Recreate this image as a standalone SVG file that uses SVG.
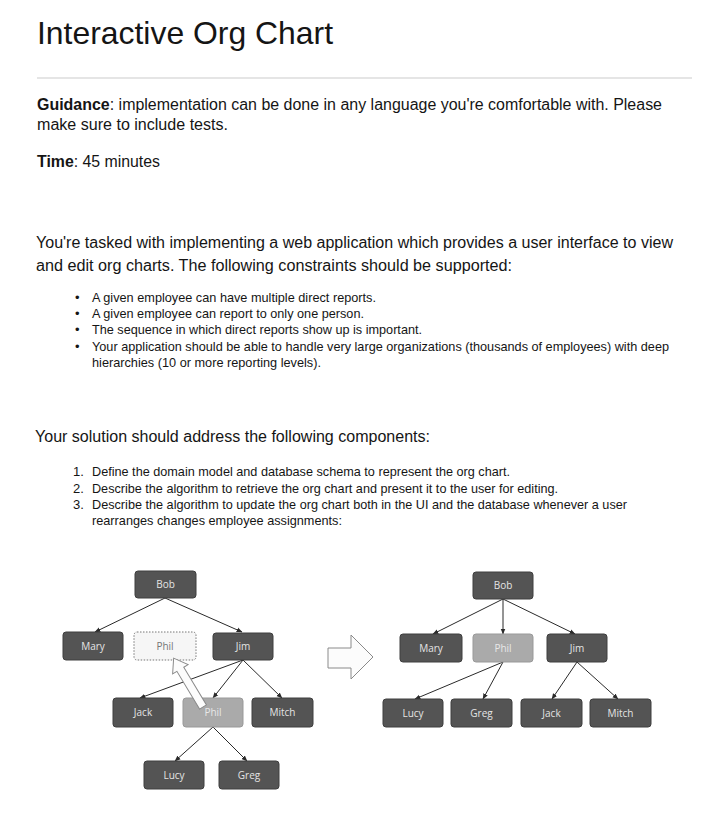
<svg xmlns="http://www.w3.org/2000/svg" width="704" height="832" viewBox="0 0 704 832">
<defs>
<style>
.t{font-family:"Liberation Sans",Arial,sans-serif;fill:#151515}
.h{font-size:16px}
.s{font-size:13px}
.n rect{fill:#545454;stroke:#3e3e3e;stroke-width:1}
.n text{font-family:"Open Sans","DejaVu Sans",sans-serif;font-size:10px;fill:#e4e4e4;text-anchor:middle}
.lt rect{fill:#aaaaaa;stroke:#999;stroke-width:1}
.lt text{fill:#e8e8e8}
.ds rect{fill:#f6f6f6;stroke:#777;stroke-width:1;stroke-dasharray:1.5 1.5}
.ds text{fill:#777}
.c line{stroke:#2a2a2a;stroke-width:1;marker-end:url(#ah)}
.bg{fill:#fcfcfc;stroke:#8a8a8a;stroke-width:1}
</style>
<marker id="ah" viewBox="0 0 10 10" refX="9" refY="5" markerWidth="6" markerHeight="6" orient="auto" markerUnits="userSpaceOnUse">
<path d="M0,1 L10,5 L0,9 z" fill="#2a2a2a"/>
</marker>
</defs>
<rect width="704" height="832" fill="#ffffff"/>

<g id="text">
<text class="t" x="37" y="44" font-size="32" fill="#222" textLength="296" lengthAdjust="spacingAndGlyphs">Interactive Org Chart</text>
<line x1="37" y1="78" x2="692" y2="78" stroke="#dcdcdc" stroke-width="1.5"/>
<text class="t h" x="37" y="110" textLength="625" lengthAdjust="spacingAndGlyphs"><tspan font-weight="bold">Guidance</tspan>: implementation can be done in any language you're comfortable with. Please</text>
<text class="t h" x="37" y="130" textLength="191" lengthAdjust="spacingAndGlyphs">make sure to include tests.</text>
<text class="t h" x="37" y="167" textLength="123" lengthAdjust="spacingAndGlyphs"><tspan font-weight="bold">Time</tspan>: 45 minutes</text>
<text class="t h" x="36" y="248" textLength="637" lengthAdjust="spacingAndGlyphs">You're tasked with implementing a web application which provides a user interface to view</text>
<text class="t h" x="36" y="271" textLength="476" lengthAdjust="spacingAndGlyphs">and edit org charts. The following constraints should be supported:</text>
<g class="t s">
<text x="75" y="302">•</text>
<text x="92" y="302" textLength="284" lengthAdjust="spacingAndGlyphs">A given employee can have multiple direct reports.</text>
<text x="75" y="318">•</text>
<text x="92" y="318" textLength="272" lengthAdjust="spacingAndGlyphs">A given employee can report to only one person.</text>
<text x="75" y="334">•</text>
<text x="92" y="334" textLength="330" lengthAdjust="spacingAndGlyphs">The sequence in which direct reports show up is important.</text>
<text x="75" y="351">•</text>
<text x="92" y="351" textLength="577" lengthAdjust="spacingAndGlyphs">Your application should be able to handle very large organizations (thousands of employees) with deep</text>
<text x="92" y="367" textLength="229" lengthAdjust="spacingAndGlyphs">hierarchies (10 or more reporting levels).</text>
</g>
<text class="t h" x="35" y="442" textLength="395" lengthAdjust="spacingAndGlyphs">Your solution should address the following components:</text>
<g class="t s">
<text x="73" y="476">1.</text>
<text x="92" y="476" textLength="418" lengthAdjust="spacingAndGlyphs">Define the domain model and database schema to represent the org chart.</text>
<text x="73" y="493">2.</text>
<text x="92" y="493" textLength="466" lengthAdjust="spacingAndGlyphs">Describe the algorithm to retrieve the org chart and present it to the user for editing.</text>
<text x="73" y="509">3.</text>
<text x="92" y="509" textLength="535" lengthAdjust="spacingAndGlyphs">Describe the algorithm to update the org chart both in the UI and the database whenever a user</text>
<text x="92" y="525" textLength="250" lengthAdjust="spacingAndGlyphs">rearranges changes employee assignments:</text>
</g>
</g>

<g id="connectors" class="c">
<line x1="165" y1="598" x2="95" y2="632"/>
<line x1="165" y1="598" x2="242" y2="632"/>
<line x1="243" y1="660" x2="140" y2="698"/>
<line x1="243" y1="660" x2="213" y2="698"/>
<line x1="243" y1="660" x2="282" y2="698"/>
<line x1="213" y1="727" x2="175" y2="761"/>
<line x1="213" y1="727" x2="247" y2="761"/>
<line x1="503" y1="599" x2="433" y2="634"/>
<line x1="503" y1="599" x2="503" y2="634"/>
<line x1="503" y1="599" x2="575" y2="634"/>
<line x1="503" y1="662" x2="415" y2="699"/>
<line x1="503" y1="662" x2="483" y2="699"/>
<line x1="577" y1="662" x2="552" y2="699"/>
<line x1="577" y1="662" x2="618" y2="699"/>
</g>

<g id="left-bob" class="n"><rect x="135" y="571" width="61" height="27" rx="3"/><text x="165.5" y="588">Bob</text></g>
<g id="left-mary" class="n"><rect x="63" y="632" width="60" height="28" rx="3"/><text x="93" y="650">Mary</text></g>
<g id="left-phil-target" class="n ds"><rect x="134" y="632" width="62" height="28" rx="3"/><text x="165" y="650">Phil</text></g>
<g id="left-jim" class="n"><rect x="213" y="633" width="60" height="27" rx="3"/><text x="243" y="650">Jim</text></g>
<g id="left-jack" class="n"><rect x="113" y="698" width="60" height="29" rx="3"/><text x="143" y="716">Jack</text></g>
<g id="left-phil" class="n lt"><rect x="183" y="698" width="60" height="29" rx="3"/><text x="213" y="716">Phil</text></g>
<g id="left-mitch" class="n"><rect x="252" y="698" width="61" height="29" rx="3"/><text x="282.5" y="716">Mitch</text></g>
<g id="left-lucy" class="n"><rect x="144" y="761" width="60" height="28" rx="3"/><text x="174" y="779">Lucy</text></g>
<g id="left-greg" class="n"><rect x="219" y="761" width="60" height="28" rx="3"/><text x="249" y="779">Greg</text></g>

<g id="drag-arrow"><polygon class="bg" transform="translate(203,707) rotate(-31)" points="-4,0 4,0 4,-44 9,-44 0,-57 -9,-44 -4,-44"/></g>

<g id="transform-arrow"><polygon class="bg" stroke="#555" points="328,648 351,648 351,635 373,657 351,679 351,668 328,668"/></g>

<g id="right-bob" class="n"><rect x="473" y="572" width="60" height="27" rx="3"/><text x="503" y="589">Bob</text></g>
<g id="right-mary" class="n"><rect x="400" y="634" width="62" height="28" rx="3"/><text x="431" y="652">Mary</text></g>
<g id="right-phil" class="n lt"><rect x="473" y="634" width="60" height="28" rx="3"/><text x="503" y="652">Phil</text></g>
<g id="right-jim" class="n"><rect x="547" y="634" width="60" height="28" rx="3"/><text x="577" y="652">Jim</text></g>
<g id="right-lucy" class="n"><rect x="383" y="699" width="60" height="28" rx="3"/><text x="413" y="717">Lucy</text></g>
<g id="right-greg" class="n"><rect x="451" y="699" width="61" height="28" rx="3"/><text x="481.5" y="717">Greg</text></g>
<g id="right-jack" class="n"><rect x="521" y="699" width="61" height="28" rx="3"/><text x="551.5" y="717">Jack</text></g>
<g id="right-mitch" class="n"><rect x="590" y="699" width="61" height="28" rx="3"/><text x="620.5" y="717">Mitch</text></g>
</svg>
